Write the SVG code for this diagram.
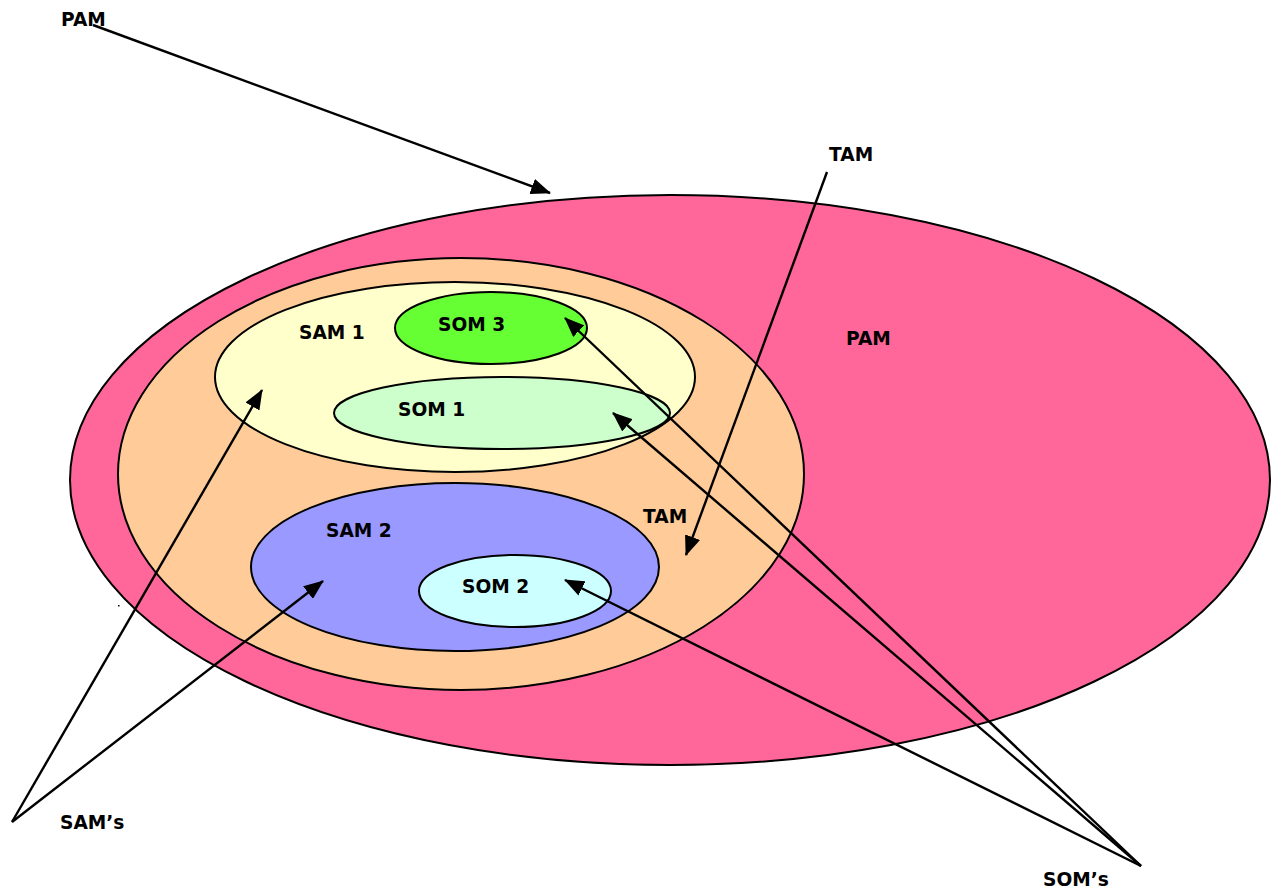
<svg xmlns="http://www.w3.org/2000/svg" width="1273" height="892" viewBox="0 0 1273 892">
<defs>
<marker id="ah" markerUnits="userSpaceOnUse" markerWidth="20" markerHeight="16" viewBox="0 0 20 16" refX="19" refY="8" orient="auto">
<path d="M0,0 L20,8 L0,16 Z" fill="#000"/>
</marker>
<style>
.e{stroke:#000;stroke-width:2}
.t{font-family:"DejaVu Sans",Verdana,sans-serif;font-weight:bold;font-size:18.6px;fill:#000}
.c{stroke:#000;stroke-width:2.4;fill:none;marker-end:url(#ah)}
</style>
</defs>
<rect width="1273" height="892" fill="#fff"/>
<g id="pam"><ellipse class="e" cx="670" cy="480" rx="600" ry="285" fill="#FF6699"/><text class="t" x="846" y="345">PAM</text></g>
<g id="tam"><ellipse class="e" cx="461" cy="474" rx="343" ry="216" fill="#FFCC99"/><text class="t" x="643" y="523">TAM</text></g>
<g id="sam1"><ellipse class="e" cx="455" cy="377" rx="240" ry="95" fill="#FFFFCC"/><text class="t" x="299" y="339">SAM 1</text></g>
<g id="som3"><ellipse class="e" cx="491" cy="328" rx="96" ry="36" fill="#66FF33"/><text class="t" x="438" y="331">SOM 3</text></g>
<g id="som1"><ellipse class="e" cx="502" cy="413" rx="168" ry="36" fill="#CCFFCC"/><text class="t" x="398" y="416">SOM 1</text></g>
<g id="sam2"><ellipse class="e" cx="455" cy="567" rx="204" ry="84" fill="#9999FF"/><text class="t" x="326" y="537">SAM 2</text></g>
<g id="som2"><ellipse class="e" cx="515" cy="591" rx="96" ry="36" fill="#CCFFFF"/><text class="t" x="462" y="593">SOM 2</text></g>
<g id="label-pam"><text class="t" x="61" y="26">PAM</text></g>
<g id="label-tam"><text class="t" x="829" y="161">TAM</text></g>
<g id="label-sams"><text class="t" x="60" y="829">SAM’s</text></g>
<g id="label-soms"><text class="t" x="1043" y="886">SOM’s</text></g>
<rect x="118" y="605" width="1.5" height="1.5" fill="#000"/>
<g id="connectors">
<line class="c" x1="93" y1="25" x2="550" y2="193"/>
<line class="c" x1="827" y1="172" x2="686" y2="555"/>
<line class="c" x1="12" y1="822" x2="262" y2="390"/>
<line class="c" x1="12" y1="822" x2="323" y2="581"/>
<line class="c" x1="1141" y1="866" x2="565" y2="318"/>
<line class="c" x1="1141" y1="866" x2="613" y2="413"/>
<line class="c" x1="1141" y1="866" x2="565" y2="580"/>
</g>
</svg>
